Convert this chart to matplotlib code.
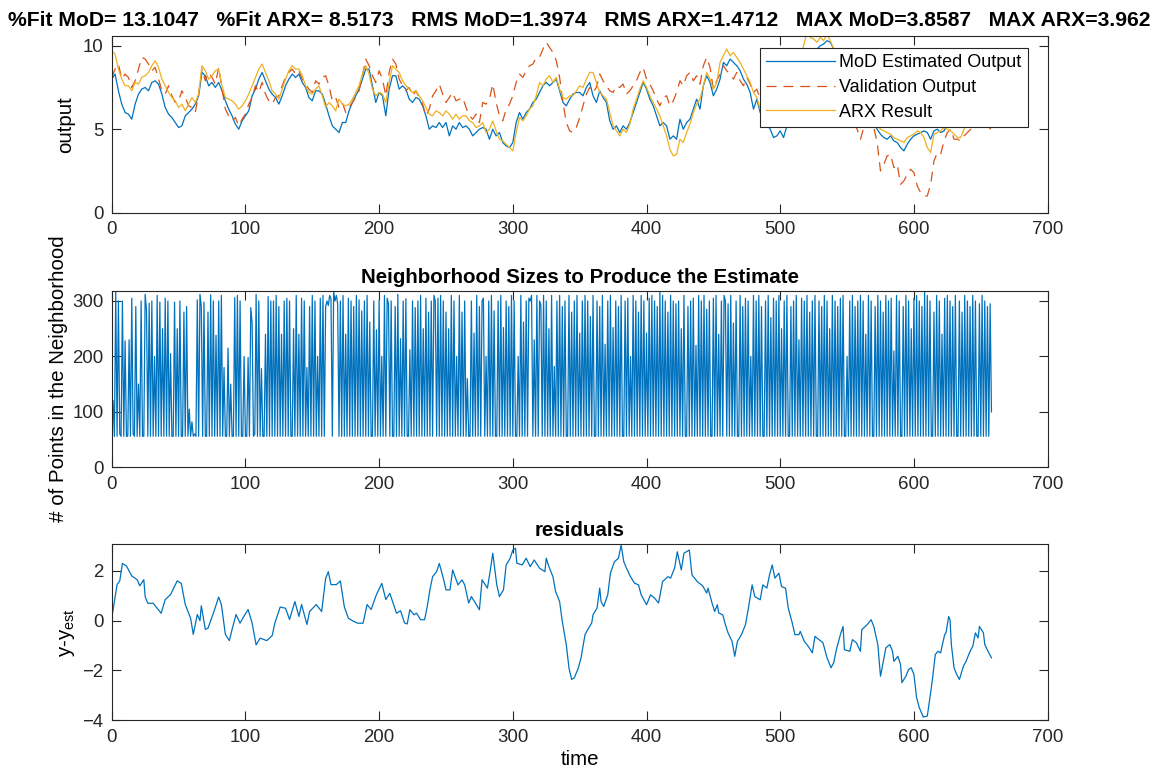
import numpy as np
import matplotlib.pyplot as plt

plt.rcParams['font.family'] = ['Liberation Sans', 'DejaVu Sans']
plt.rcParams['mathtext.default'] = 'regular'

# --- model output, validation data and ARX output on a 2.5 step grid ---
t_out = np.arange(0, 660, 2.5)
mod_out = [
    8.0, 8.3, 7.3, 6.5, 6.0, 5.9, 5.6, 6.5, 7.1, 7.4, 7.5, 7.3, 7.8, 7.9, 7.7, 7.1, 6.3, 5.9, 5.7, 5.4,
    5.1, 5.2, 5.8, 6.0, 6.2, 6.5, 7.0, 8.4, 8.2, 7.6, 7.8, 7.5, 7.8, 7.3, 6.7, 6.2, 5.8, 5.3, 5.0, 5.5,
    5.8, 6.1, 7.0, 7.4, 8.0, 8.4, 7.9, 7.4, 7.1, 6.9, 6.5, 7.0, 7.6, 8.0, 8.3, 8.1, 8.3, 7.8, 7.5, 6.9,
    6.7, 7.3, 7.3, 7.1, 6.5, 5.8, 5.2, 5.0, 4.8, 5.4, 5.4, 6.1, 6.6, 7.0, 7.4, 8.0, 8.6, 8.6, 7.6, 6.6,
    7.2, 7.0, 5.8, 7.4, 8.2, 8.2, 7.4, 7.6, 7.4, 6.8, 6.6, 6.9, 6.8, 6.4, 5.8, 5.0, 5.2, 5.1, 5.4, 5.1,
    5.4, 4.6, 5.2, 5.0, 5.4, 5.1, 5.2, 5.0, 4.6, 4.8, 5.0, 5.1, 5.0, 4.4, 5.0, 4.6, 4.8, 4.2, 4.0, 3.9,
    4.2, 5.4, 6.0, 5.6, 6.0, 6.2, 6.6, 6.8, 7.2, 7.6, 7.8, 7.6, 7.8, 8.0, 7.3, 6.6, 6.4, 6.8, 7.1, 7.2,
    7.2, 7.0, 7.5, 7.8, 7.0, 6.6, 7.3, 6.9, 6.6, 5.5, 5.0, 5.2, 4.8, 5.2, 5.0, 5.4, 6.0, 6.6, 7.2, 7.8,
    7.4, 6.8, 6.4, 5.8, 5.2, 5.4, 5.2, 4.4, 4.6, 4.4, 5.6, 5.0, 5.4, 5.6, 6.2, 6.8, 6.2, 7.6, 8.2, 7.8,
    7.0, 7.4, 8.0, 9.0, 8.8, 9.2, 9.0, 8.8, 8.5, 8.0, 7.7, 7.2, 6.2, 6.8, 6.0, 5.6, 5.3, 5.0, 4.5, 4.6,
    4.9, 4.5, 5.2, 6.0, 6.8, 7.5, 8.0, 8.5, 9.0, 9.4, 9.6, 9.8, 10.0, 10.1, 10.3, 10.2, 9.8, 9.2, 8.5, 7.8,
    7.0, 6.5, 6.2, 5.9, 5.6, 5.5, 5.6, 5.5, 5.3, 5.0, 4.7, 4.5, 4.4, 4.6, 4.3, 4.2, 3.9, 3.7, 4.1, 4.4,
    4.6, 4.7, 4.8, 4.9, 4.8, 4.4, 4.9, 5.0, 4.8, 4.9, 5.3, 5.8, 6.3, 6.6, 6.5, 6.4, 6.3, 6.2, 6.0, 5.9,
    6.0, 6.2, 6.4, 6.5,
]
val_out = [
    8.1, 8.6, 8.9, 8.0, 8.3, 8.1, 7.5, 7.9, 8.6, 9.3, 9.2, 8.9, 8.5, 8.7, 8.0, 7.3, 7.1, 7.6, 7.0, 6.6,
    6.7, 7.3, 6.9, 6.4, 6.3, 6.0, 7.1, 8.6, 7.9, 8.4, 8.1, 7.7, 8.7, 7.4, 6.2, 5.8, 5.5, 5.7, 5.2, 5.6,
    5.9, 6.5, 6.9, 7.6, 7.2, 7.8, 7.1, 6.7, 6.5, 6.9, 7.0, 7.6, 8.1, 8.4, 8.6, 8.3, 8.5, 8.0, 7.7, 7.4,
    7.2, 7.9, 7.7, 8.1, 8.2, 7.6, 6.7, 6.9, 6.3, 6.6, 6.0, 6.3, 6.6, 6.9, 7.3, 8.2, 9.2, 8.8, 8.2, 7.8,
    8.5, 8.0, 7.0, 8.4, 9.2, 8.9, 8.0, 7.6, 7.3, 7.5, 7.0, 7.3, 6.9, 6.5, 5.8, 6.2, 7.0, 7.3, 7.7, 7.1,
    6.6, 6.9, 7.2, 6.7, 6.8, 6.9, 6.3, 5.8, 5.6, 5.9, 5.4, 6.6, 6.5, 6.8, 7.7, 6.6, 5.8, 5.5, 6.2, 6.5,
    7.0, 7.8, 8.3, 8.1, 8.5, 8.8, 8.9, 9.3, 9.3, 9.8, 10.2, 9.9, 9.6, 9.1, 8.1, 6.6, 5.4, 4.9, 4.8, 5.1,
    5.7, 6.4, 7.1, 7.5, 7.2, 7.5, 8.3, 7.9, 7.6, 7.3, 7.2, 7.6, 7.5, 7.7, 7.1, 7.3, 7.6, 7.9, 8.4, 8.7,
    8.0, 7.7, 7.3, 6.8, 6.4, 6.9, 7.0, 6.4, 6.7, 7.2, 7.9, 7.6, 8.2, 8.4, 7.9, 8.2, 7.7, 8.8, 9.3, 8.7,
    7.4, 7.9, 8.3, 8.8, 8.5, 8.3, 8.0, 8.4, 7.9, 7.6, 8.1, 7.7, 7.2, 7.4, 6.8, 7.0, 6.6, 6.9, 6.4, 6.5,
    6.3, 6.0, 5.7, 6.0, 6.3, 7.0, 7.5, 7.8, 8.1, 8.4, 8.5, 9.0, 9.1, 9.0, 8.8, 8.4, 8.1, 8.6, 7.9, 6.8,
    5.8, 5.5, 5.4, 5.0, 4.4, 5.1, 5.4, 5.6, 5.1, 4.2, 2.5, 2.9, 3.4, 3.5, 2.7, 2.9, 1.7, 1.9, 2.3, 2.6,
    2.4, 1.6, 1.2, 1.0, 1.0, 1.7, 3.1, 3.6, 3.5, 4.3, 4.8, 5.0, 4.4, 4.4, 4.3, 4.6, 4.8, 5.0, 5.2, 5.5,
    5.6, 5.4, 5.2, 5.0,
]
arx_out = [
    9.7, 9.5, 8.6, 8.0, 7.6, 7.6, 7.3, 7.8, 7.7, 8.1, 8.2, 8.4, 8.8, 9.1, 8.7, 8.0, 7.6, 7.2, 6.9, 6.7,
    6.3, 6.5, 6.1, 6.5, 6.9, 6.6, 7.1, 8.8, 8.5, 8.0, 8.2, 8.5, 8.6, 7.6, 6.9, 6.8, 6.7, 6.5, 6.2, 6.4,
    6.7, 7.1, 7.6, 8.1, 8.6, 8.9, 8.4, 7.9, 7.3, 7.1, 6.8, 7.4, 8.0, 8.5, 8.8, 8.6, 8.6, 8.2, 7.6, 7.2,
    7.1, 7.4, 7.6, 7.0, 6.3, 6.6, 6.4, 6.1, 6.8, 6.5, 6.4, 6.5, 6.8, 7.2, 7.6, 8.3, 8.8, 8.3, 7.4, 7.0,
    7.2, 7.1, 6.6, 7.8, 8.8, 8.6, 8.4, 7.9, 7.6, 7.4, 7.2, 7.3, 7.0, 6.7, 6.3, 5.9, 5.8, 6.1, 6.0, 5.8,
    6.1, 5.9, 5.6, 5.9, 5.6, 5.8, 5.8, 5.5, 5.4, 5.1, 5.2, 5.4, 4.8, 5.0, 5.5, 4.9, 4.4, 4.3, 4.1, 3.9,
    3.7, 4.8, 5.7, 5.5, 5.8, 6.2, 6.4, 7.0, 7.8, 7.6, 8.0, 8.2, 7.8, 8.1, 7.4, 6.9, 6.8, 7.0, 7.0, 7.3,
    7.6, 7.5, 8.0, 8.4, 8.4, 7.8, 7.2, 7.0, 6.8, 6.0, 5.2, 4.9, 4.6, 5.0, 4.8, 5.3, 6.2, 6.8, 7.4, 7.9,
    7.5, 7.0, 6.6, 6.2, 5.8, 5.2, 4.6, 3.8, 3.4, 3.5, 4.4, 4.2, 4.8, 5.3, 6.0, 6.5, 6.8, 7.6, 8.4, 8.0,
    7.4, 7.8, 9.0, 9.4, 9.8, 9.4, 9.6, 9.3, 9.0, 8.6, 8.2, 7.8, 7.2, 6.9, 6.2, 6.0, 5.8, 5.5, 5.3, 5.2,
    5.5, 5.9, 6.5, 7.2, 7.8, 8.5, 9.2, 10.0, 10.8, 10.5, 10.4, 10.2, 10.5, 10.3, 10.7, 10.3, 9.8, 9.2, 8.6, 7.9,
    7.2, 6.7, 6.2, 5.8, 5.5, 5.7, 5.6, 5.4, 5.3, 5.2, 5.0, 4.9, 4.8, 4.7, 4.5, 4.4, 4.3, 4.2, 4.5, 4.6,
    4.7, 4.9, 4.8, 4.5, 3.9, 3.6, 4.7, 4.8, 4.9, 5.1, 5.0, 4.9, 4.7, 4.5, 4.5, 5.0, 5.6, 5.8, 6.0, 6.1,
    6.2, 6.4, 6.5, 6.6,
]

# --- neighbourhood size used for each estimate, one per time step ---
nb_size = [
    120, 56, 317, 56, 300, 60, 56, 300, 56, 228, 56, 56, 230, 56, 305, 60, 56, 290, 56, 150,
    56, 300, 56, 56, 312, 285, 56, 296, 56, 300, 56, 200, 56, 310, 56, 298, 56, 250, 56, 305,
    56, 300, 56, 205, 56, 56, 298, 56, 250, 56, 300, 56, 56, 280, 56, 290, 56, 105, 56, 82,
    56, 60, 56, 302, 56, 312, 290, 56, 298, 56, 56, 280, 56, 311, 56, 300, 56, 238, 56, 300,
    56, 310, 56, 180, 56, 56, 215, 56, 150, 56, 56, 306, 56, 310, 56, 300, 56, 56, 200, 56,
    56, 198, 56, 288, 260, 56, 60, 312, 56, 300, 56, 178, 56, 56, 240, 56, 308, 56, 300, 56,
    300, 56, 310, 56, 290, 56, 240, 56, 300, 56, 305, 56, 300, 56, 56, 250, 56, 310, 56, 240,
    56, 305, 56, 300, 56, 180, 56, 290, 56, 310, 56, 300, 56, 200, 56, 305, 56, 310, 56, 290,
    300, 292, 310, 304, 56, 317, 300, 310, 295, 56, 300, 56, 310, 56, 240, 56, 305, 56, 300, 56,
    290, 56, 310, 56, 302, 56, 282, 56, 300, 56, 310, 56, 262, 56, 56, 300, 56, 248, 56, 302,
    56, 200, 56, 310, 56, 305, 295, 56, 300, 56, 56, 290, 56, 312, 56, 232, 56, 300, 56, 304,
    56, 56, 212, 56, 300, 56, 288, 56, 300, 56, 310, 56, 250, 56, 305, 56, 280, 56, 300, 56,
    310, 300, 56, 305, 56, 310, 56, 300, 56, 280, 56, 250, 56, 310, 56, 300, 56, 200, 56, 310,
    56, 280, 56, 300, 56, 160, 56, 56, 300, 56, 242, 56, 310, 56, 290, 56, 300, 305, 56, 200,
    56, 300, 56, 310, 56, 282, 56, 56, 300, 56, 310, 56, 252, 56, 300, 56, 290, 56, 310, 56,
    300, 56, 56, 200, 56, 310, 56, 262, 56, 300, 56, 305, 300, 310, 56, 230, 56, 310, 56, 300,
    292, 56, 310, 56, 300, 56, 250, 56, 310, 56, 182, 56, 300, 56, 310, 56, 290, 56, 300, 56,
    56, 310, 56, 280, 56, 300, 56, 310, 56, 242, 56, 300, 56, 310, 56, 300, 56, 272, 56, 310,
    56, 56, 300, 56, 290, 56, 310, 56, 222, 56, 300, 56, 310, 56, 252, 56, 300, 56, 290, 56,
    310, 56, 56, 300, 56, 305, 56, 200, 56, 310, 56, 300, 56, 280, 56, 310, 56, 300, 56, 242,
    56, 305, 56, 310, 56, 300, 56, 290, 56, 317, 56, 310, 56, 300, 56, 280, 56, 310, 56, 300,
    56, 295, 56, 300, 56, 250, 56, 310, 56, 56, 290, 56, 300, 56, 305, 56, 220, 56, 310, 56,
    300, 56, 310, 56, 285, 56, 300, 56, 56, 305, 56, 310, 56, 240, 56, 300, 56, 310, 300, 56,
    295, 56, 310, 56, 260, 56, 300, 56, 56, 310, 56, 290, 56, 305, 56, 300, 56, 200, 56, 310,
    56, 300, 56, 310, 56, 290, 56, 56, 300, 56, 310, 56, 270, 56, 305, 56, 300, 56, 310, 56,
    250, 56, 300, 56, 310, 56, 56, 290, 56, 300, 56, 310, 56, 230, 56, 305, 56, 300, 56, 310,
    56, 280, 56, 300, 56, 310, 56, 56, 300, 56, 290, 56, 310, 56, 300, 56, 250, 56, 310, 56,
    300, 56, 290, 56, 305, 56, 310, 56, 56, 200, 56, 300, 56, 310, 56, 290, 56, 300, 56, 310,
    56, 300, 56, 240, 56, 310, 56, 300, 56, 56, 290, 56, 310, 56, 300, 56, 280, 56, 310, 56,
    300, 56, 305, 56, 210, 56, 310, 56, 300, 56, 56, 290, 56, 310, 56, 300, 56, 250, 56, 305,
    56, 310, 56, 300, 56, 290, 56, 317, 56, 310, 56, 300, 56, 56, 280, 56, 310, 56, 300, 56,
    240, 56, 305, 56, 310, 56, 300, 56, 290, 56, 310, 56, 56, 300, 56, 280, 56, 310, 56, 300,
    56, 290, 56, 310, 56, 300, 56, 56, 295, 56, 310, 56, 300, 56, 290, 56, 295, 100,
]
t_nb = np.arange(1, len(nb_size) + 1)

# --- residuals y - y_est ---
t_res = [
    0, 4, 6, 8, 11, 15, 19, 21, 24, 25, 27, 31, 34, 37, 40, 44, 49, 52, 55, 59,
    61, 64, 66, 67, 70, 72, 76, 80, 82, 85, 88, 90, 93, 96, 98, 102, 105, 108, 111, 116,
    120, 122, 126, 130, 133, 137, 140, 142, 146, 148, 153, 157, 160, 162, 164, 168, 171, 174, 177, 181,
    184, 188, 191, 194, 198, 202, 205, 208, 213, 216, 219, 221, 223, 226, 228, 231, 234, 236, 238, 240,
    243, 245, 248, 250, 253, 255, 259, 262, 264, 267, 269, 272, 275, 277, 281, 283, 285, 288, 290, 293,
    295, 298, 300, 302, 303, 307, 310, 313, 316, 320, 324, 325, 327, 330, 332, 335, 337, 340, 342, 344,
    346, 349, 351, 354, 356, 359, 360, 363, 365, 366, 368, 371, 373, 376, 379, 381, 383, 385, 388, 391,
    394, 396, 400, 403, 406, 409, 412, 416, 418, 421, 423, 426, 428, 432, 434, 438, 442, 445, 446, 449,
    451, 453, 454, 457, 459, 461, 464, 466, 468, 471, 474, 476, 479, 481, 485, 487, 490, 492, 494, 496,
    499, 501, 504, 506, 509, 511, 514, 515, 518, 521, 524, 526, 529, 532, 535, 538, 540, 542, 545, 547,
    548, 552, 554, 557, 560, 561, 565, 568, 570, 573, 575, 576, 579, 582, 584, 585, 588, 590, 591, 594,
    596, 598, 600, 602, 604, 607, 610, 612, 614, 616, 618, 620, 621, 623, 624, 626, 627, 628, 630, 632,
    634, 637, 639, 642, 644, 646, 648, 649, 652, 653, 656, 658,
]
residual = [
    0.1, 1.45, 1.6, 2.3, 2.2, 1.8, 1.65, 1.4, 1.65, 0.97, 0.7, 0.7, 0.5, 0.3, 0.85, 1.05, 1.6, 1.5, 0.65, 0.1,
    -0.55, 0.25, 0.0, 0.6, -0.35, -0.3, 0.3, 0.95, 0.65, -0.55, -0.8, -0.35, 0.25, -0.1, 0.1, 0.45, -0.1, -0.97, -0.7, -0.8,
    -0.6, -0.1, 0.55, 0.5, 0.05, 0.77, 0.17, 0.65, -0.15, 0.37, 0.65, 0.37, 1.7, 1.97, 1.45, 1.45, 1.6, 0.55, 0.1, -0.03,
    -0.1, -0.1, 0.65, 0.45, 1.05, 1.5, 0.85, 1.1, 0.3, 0.4, -0.09, -0.13, 0.44, 0.24, 0.3, 0.04, 0.04, 0.57, 1.24, 1.77,
    1.97, 2.3, 1.71, 1.24, 1.24, 2.04, 1.44, 1.64, 1.44, 0.71, 0.97, 0.71, 0.44, 1.64, 1.31, 1.97, 2.71, 1.44, 0.97, 1.24,
    2.24, 2.51, 2.84, 2.91, 2.31, 2.24, 2.51, 2.17, 2.44, 2.11, 1.97, 2.51, 2.17, 1.77, 1.17, 0.77, -0.03, -0.97, -1.9, -2.36,
    -2.29, -1.9, -1.5, -0.56, -0.36, -0.09, 0.24, 0.51, 1.31, 0.77, 0.57, 1.04, 1.91, 2.37, 2.51, 3.04, 2.37, 2.11, 1.77, 1.51,
    1.44, 1.04, 0.64, 1.04, 0.91, 0.71, 1.57, 1.77, 1.71, 2.11, 2.77, 2.04, 2.71, 2.84, 1.84, 1.57, 1.4, 1.11, 1.31, 0.71,
    0.37, 0.64, 0.31, 0.24, -0.16, -0.49, -0.83, -1.43, -0.83, -0.56, -0.16, 0.44, 1.44, 0.97, 0.84, 1.44, 1.31, 1.84, 2.24, 1.71,
    1.91, 1.37, 1.31, 0.51, -0.09, -0.56, -0.56, -0.43, -0.83, -1.03, -1.29, -0.63, -0.76, -0.89, -1.49, -1.89, -1.69, -1.16, -0.56, -0.23,
    -1.16, -1.23, -0.76, -0.89, -1.23, -0.36, -0.16, 0.04, -0.23, -0.96, -2.23, -1.96, -1.09, -0.96, -1.23, -1.63, -1.43, -1.76, -2.49, -2.23,
    -1.96, -1.89, -2.16, -3.09, -3.49, -3.87, -3.83, -3.09, -2.29, -1.36, -1.23, -1.29, -1.03, -0.56, -0.49, 0.17, 0.04, -0.96, -1.89, -2.16,
    -2.36, -1.83, -1.63, -1.23, -1.03, -0.49, -0.69, -0.23, -0.49, -0.96, -1.29, -1.49,
]

summary = ('%Fit MoD= 13.1047   %Fit ARX= 8.5173   RMS MoD=1.3974   '
           'RMS ARX=1.4712   MAX MoD=3.8587   MAX ARX=3.962')

C_BLUE = '#0072BD'
C_ORANGE = '#D95319'
C_YELLOW = '#EDB120'
C_AX = '#262626'
TICK_FS = 13.4
LABEL_FS = 14.8

fig = plt.figure(figsize=(11.53, 7.76), dpi=100)
ax1 = fig.add_axes([0.0969, 0.7259, 0.8117, 0.2277])
ax2 = fig.add_axes([0.0969, 0.3978, 0.8117, 0.2272])
ax3 = fig.add_axes([0.0969, 0.0718, 0.8117, 0.2268])


def style(ax):
    for s in ax.spines.values():
        s.set_color(C_AX)
        s.set_linewidth(0.8)
    ax.tick_params(direction='in', top=True, right=True, length=6.7, width=0.8,
                   colors=C_AX, labelsize=TICK_FS, pad=6)
    ax.set_xlim(0, 700)
    ax.set_xticks(range(0, 701, 100))


ax1.plot(t_out, mod_out, color=C_BLUE, lw=0.9, label='MoD Estimated Output')
ax1.plot(t_out, val_out, color=C_ORANGE, lw=0.9, dashes=(8, 5.5), label='Validation Output')
ax1.plot(t_out, arx_out, color=C_YELLOW, lw=0.9, label='ARX Result')
style(ax1)
ax1.set_ylim(0, 10.58)
ax1.set_yticks([0, 5, 10])
ax1.set_ylabel('output', fontsize=LABEL_FS)
ax1.yaxis.set_label_coords(-0.039, 0.5)
ax1.set_title(summary, fontsize=15.2, fontweight='bold', pad=7)
leg = ax1.legend(loc='upper right', bbox_to_anchor=(0.979, 0.932), borderaxespad=0,
                 fontsize=13, handlelength=3.8, handletextpad=0.25, labelspacing=0.42,
                 borderpad=0.35, fancybox=False, framealpha=1, edgecolor=C_AX)
leg.get_frame().set_linewidth(0.8)

ax2.plot(t_nb, nb_size, color=C_BLUE, lw=0.9)
style(ax2)
ax2.set_ylim(0, 318)
ax2.set_yticks([0, 100, 200, 300])
ax2.set_ylabel('# of Points in the Neighborhood', fontsize=LABEL_FS)
ax2.yaxis.set_label_coords(-0.047, 0.5)
ax2.set_title('Neighborhood Sizes to Produce the Estimate', fontsize=LABEL_FS,
              fontweight='bold', pad=6)

ax3.plot(t_res, residual, color=C_BLUE, lw=0.9)
style(ax3)
ax3.set_ylim(-4, 3.07)
ax3.set_yticks([-4, -2, 0, 2])
ax3.set_ylabel('y-y$_{est}$', fontsize=LABEL_FS)
ax3.yaxis.set_label_coords(-0.037, 0.5)
ax3.set_title('residuals', fontsize=LABEL_FS, fontweight='bold', pad=6)
ax3.set_xlabel('time', fontsize=LABEL_FS, labelpad=3)

fig.savefig('out.png', dpi=100, facecolor='white')
